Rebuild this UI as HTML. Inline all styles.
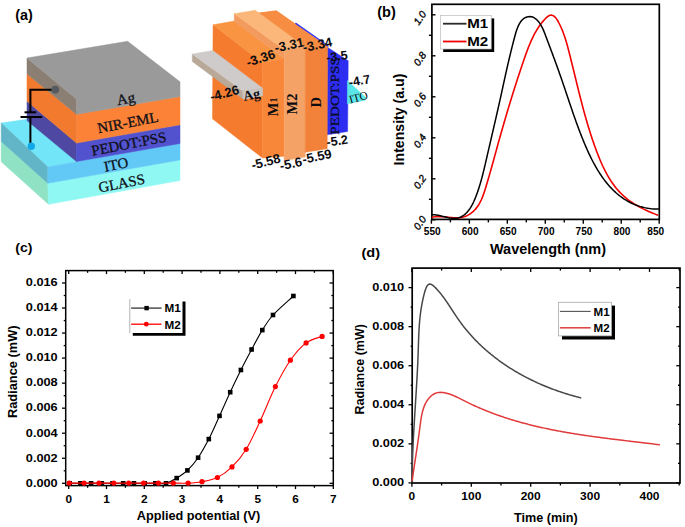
<!DOCTYPE html>
<html><head><meta charset="utf-8"><title>Figure</title>
<style>html,body{margin:0;padding:0;background:#fff;}body{width:685px;height:527px;overflow:hidden;font-family:"Liberation Sans",sans-serif;}svg{display:block;}</style>
</head><body>
<svg width="685" height="527" viewBox="0 0 685 527">
<text x="15.2" y="19.8" font-family="&quot;Liberation Sans&quot;, sans-serif" font-size="14.5" font-weight="bold" fill="#000" text-anchor="start" textLength="17.6" lengthAdjust="spacingAndGlyphs">(a)</text>
<polygon points="1.2,141.5 47.8,183.3 48.5,204.3 1.2,161.7" fill="#8fe3c4" stroke="#8fe3c4" stroke-width="0.5" stroke-linejoin="round"/>
<polygon points="47.8,183.3 180,160 180,180.5 48.5,204.3" fill="#8ff8f3" stroke="#8ff8f3" stroke-width="0.5" stroke-linejoin="round"/>
<polygon points="1.2,123 28.5,119.1 133.7,99 180,143.5 47.8,167" fill="#72e6f8" stroke="#72e6f8" stroke-width="0.5" stroke-linejoin="round"/>
<polygon points="1.2,123 47.8,167 47.8,183.3 1.2,141.5" fill="#62b5c6" stroke="#62b5c6" stroke-width="0.5" stroke-linejoin="round"/>
<polygon points="47.8,167 180,143.5 180,160 47.8,183.3" fill="#62c9f7" stroke="#62c9f7" stroke-width="0.5" stroke-linejoin="round"/>
<polygon points="27,101.2 76.5,143.1 76.5,161.6 27,120.6" fill="#4f48a3" stroke="#4f48a3" stroke-width="0.5" stroke-linejoin="round"/>
<polygon points="76.5,143.1 180,124.8 180,143.5 76.5,161.6" fill="#5252cf" stroke="#5252cf" stroke-width="0.5" stroke-linejoin="round"/>
<polygon points="27,74 76.5,114.3 76.5,143.1 27,101.2" fill="#f27a2f" stroke="#f27a2f" stroke-width="0.5" stroke-linejoin="round"/>
<polygon points="76.5,114.3 180,96.6 180,124.8 76.5,143.1" fill="#fb8236" stroke="#fb8236" stroke-width="0.5" stroke-linejoin="round"/>
<polygon points="27,58 76.5,99 76.5,114.3 27,74" fill="#8b7f73" stroke="#8b7f73" stroke-width="0.5" stroke-linejoin="round"/>
<polygon points="27,58 127.6,41.3 180,81.8 180,96.6 76.5,114.3 76.5,99" fill="#9a9a9a" stroke="#9a9a9a" stroke-width="0.5" stroke-linejoin="round"/>
<path d="M54.5,89.7 H30.4 V112.3 M30.4,117 V146" fill="none" stroke="#000" stroke-width="2"/>
<line x1="24.5" y1="112.3" x2="36.2" y2="112.3" stroke="#000" stroke-width="2"/>
<line x1="20.5" y1="117" x2="42.2" y2="117" stroke="#000" stroke-width="2"/>
<circle cx="55.2" cy="89.6" r="3.9" fill="#555a5e"/>
<circle cx="31.3" cy="146.2" r="3.7" fill="#10a8e8"/>
<text x="126.8" y="103.5" font-family="&quot;Liberation Serif&quot;, serif" font-size="15" font-weight="normal" fill="#101018" text-anchor="middle" transform="rotate(-10.5 126.8 103.5)" stroke="#101018" stroke-width="0.3">Ag</text>
<text x="128.8" y="127.3" font-family="&quot;Liberation Serif&quot;, serif" font-size="14.8" font-weight="normal" fill="#101018" text-anchor="middle" transform="rotate(-11 128.8 127.3)" stroke="#101018" stroke-width="0.3">NIR-EML</text>
<text x="129.8" y="148.6" font-family="&quot;Liberation Serif&quot;, serif" font-size="14.8" font-weight="normal" fill="#101018" text-anchor="middle" transform="rotate(-11 129.8 148.6)" stroke="#101018" stroke-width="0.3">PEDOT:PSS</text>
<text x="117" y="169.3" font-family="&quot;Liberation Serif&quot;, serif" font-size="14.8" font-weight="normal" fill="#101018" text-anchor="middle" transform="rotate(-11 117 169.3)" stroke="#101018" stroke-width="0.3">ITO</text>
<text x="122.5" y="188" font-family="&quot;Liberation Serif&quot;, serif" font-size="14.8" font-weight="normal" fill="#101018" text-anchor="middle" transform="rotate(-11 122.5 188)" stroke="#101018" stroke-width="0.3">GLASS</text>
<polygon points="255.2,13.6 276.3,10.8 327.8,46.8 305.2,50.6" fill="#f68d42" stroke="#f68d42" stroke-width="0.5" stroke-linejoin="round"/>
<polygon points="276.3,10.8 327.8,46.8 305.2,50.6 255.2,13.6" fill="#f68d42" stroke="#f68d42" stroke-width="0.5" stroke-linejoin="round"/>
<line x1="295.4" y1="23.1" x2="328.6" y2="46.3" stroke="#3333f0" stroke-width="1.3"/>
<polygon points="327.3,47.2 348.2,60.8 347.6,131.5 326.8,134.8" fill="#2e2ef2" stroke="#2e2ef2" stroke-width="0.5" stroke-linejoin="round"/>
<polygon points="347.4,80.6 365.8,97.4 365.2,100.3 347.4,103.8" fill="#5ae6e8" stroke="#5ae6e8" stroke-width="0.5" stroke-linejoin="round"/>
<polygon points="213.1,24.8 262.5,62.9 262.5,158 212.5,118.8" fill="#f57b2f" stroke="#f57b2f" stroke-width="0.5" stroke-linejoin="round"/>
<polygon points="213.1,24.8 234.3,21.1 284.2,58.5 262.5,62.9" fill="#f99443" stroke="#f99443" stroke-width="0.5" stroke-linejoin="round"/>
<polygon points="262.5,62.9 284.2,58.5 284.2,156.3 262.5,158" fill="#f8873a" stroke="#f8873a" stroke-width="0.5" stroke-linejoin="round"/>
<polygon points="234.3,13.7 284.2,49.8 284.2,58.5 234.3,21.1" fill="#f39a5e" stroke="#f39a5e" stroke-width="0.5" stroke-linejoin="round"/>
<polygon points="234.3,13.7 255.2,10.3 305.2,47 284.2,49.8" fill="#fbb679" stroke="#fbb679" stroke-width="0.5" stroke-linejoin="round"/>
<polygon points="284.2,49.8 305.2,47 305.2,157.1 284.2,160.6" fill="#f4a266" stroke="#f4a266" stroke-width="0.5" stroke-linejoin="round"/>
<polygon points="305.2,50.6 327.6,47 327.2,148.7 305.2,152.2" fill="#f2823a" stroke="#f2823a" stroke-width="0.5" stroke-linejoin="round"/>
<polygon points="192.3,54 242.5,90.9 243.2,99.2 192.3,61.5" fill="#b9a999" stroke="#b9a999" stroke-width="0.5" stroke-linejoin="round"/>
<polygon points="192.3,54 212.8,50.5 262.6,88.2 242.5,90.9" fill="#d0cbcb" stroke="#d0cbcb" stroke-width="0.5" stroke-linejoin="round"/>
<polygon points="242.5,90.9 262.6,88.2 262.6,95.8 243.2,99.2" fill="#c9c5c3" stroke="#c9c5c3" stroke-width="0.5" stroke-linejoin="round"/>
<text x="262" y="62.3" font-family="&quot;Liberation Sans&quot;, sans-serif" font-size="13" font-weight="bold" fill="#0c0c10" text-anchor="middle" transform="rotate(-18 262 62.3)">-3.36</text>
<text x="290.1" y="49.4" font-family="&quot;Liberation Sans&quot;, sans-serif" font-size="13" font-weight="bold" fill="#0c0c10" text-anchor="middle" transform="rotate(-12 290.1 49.4)">-3.31</text>
<text x="318.3" y="49" font-family="&quot;Liberation Sans&quot;, sans-serif" font-size="13" font-weight="bold" fill="#0c0c10" text-anchor="middle" transform="rotate(-12 318.3 49)">-3.34</text>
<text x="337.5" y="60.5" font-family="&quot;Liberation Sans&quot;, sans-serif" font-size="12.5" font-weight="bold" fill="#0c0c10" text-anchor="middle" transform="rotate(-8 337.5 60.5)">-3.5</text>
<text x="360.2" y="84.8" font-family="&quot;Liberation Sans&quot;, sans-serif" font-size="12.5" font-weight="bold" fill="#0c0c10" text-anchor="middle" transform="rotate(-10 360.2 84.8)">-4.7</text>
<text x="225.7" y="97.5" font-family="&quot;Liberation Sans&quot;, sans-serif" font-size="13" font-weight="bold" fill="#0c0c10" text-anchor="middle" transform="rotate(-15 225.7 97.5)">-4.26</text>
<text x="267" y="166" font-family="&quot;Liberation Sans&quot;, sans-serif" font-size="13" font-weight="bold" fill="#0c0c10" text-anchor="middle" transform="rotate(-15 267 166)">-5.58</text>
<text x="291.8" y="168.2" font-family="&quot;Liberation Sans&quot;, sans-serif" font-size="13" font-weight="bold" fill="#0c0c10" text-anchor="middle" transform="rotate(-12 291.8 168.2)">-5.6</text>
<text x="317.8" y="160.8" font-family="&quot;Liberation Sans&quot;, sans-serif" font-size="13" font-weight="bold" fill="#0c0c10" text-anchor="middle" transform="rotate(-12 317.8 160.8)">-5.59</text>
<text x="337.8" y="145" font-family="&quot;Liberation Sans&quot;, sans-serif" font-size="12.5" font-weight="bold" fill="#0c0c10" text-anchor="middle" transform="rotate(-8 337.8 145)">-5.2</text>
<text x="252.6" y="99.3" font-family="&quot;Liberation Serif&quot;, serif" font-size="14" font-weight="bold" fill="#0c0c10" text-anchor="middle" transform="rotate(-12 252.6 99.3)">Ag</text>
<text x="278.5" y="106.8" font-family="&quot;Liberation Serif&quot;, serif" font-size="14.5" font-weight="bold" fill="#0c0c10" text-anchor="middle" transform="rotate(-90 278.5 106.8)">M<tspan font-size="10" dy="-1">1</tspan></text>
<text x="297" y="104" font-family="&quot;Liberation Serif&quot;, serif" font-size="14.5" font-weight="bold" fill="#0c0c10" text-anchor="middle" transform="rotate(-90 297 104)">M2</text>
<text x="321" y="102.2" font-family="&quot;Liberation Serif&quot;, serif" font-size="14.5" font-weight="bold" fill="#0c0c10" text-anchor="middle" transform="rotate(-90 321 102.2)">D</text>
<text x="339.2" y="95.9" font-family="&quot;Liberation Serif&quot;, serif" font-size="13" font-weight="normal" fill="#0c0c2c" text-anchor="middle" transform="rotate(-90 339.2 95.9)" textLength="77.5" lengthAdjust="spacingAndGlyphs" stroke="#0c0c2c" stroke-width="0.3">PEDOT:PSS</text>
<text x="359.5" y="101" font-family="&quot;Liberation Serif&quot;, serif" font-size="11.5" font-weight="normal" fill="#0c0c10" text-anchor="middle" transform="rotate(-15 359.5 101)">ITO</text>
<text x="377.2" y="17" font-family="&quot;Liberation Sans&quot;, sans-serif" font-size="14.5" font-weight="bold" fill="#000" text-anchor="start" textLength="18.6" lengthAdjust="spacingAndGlyphs">(b)</text>
<rect x="431.9" y="4.3" width="227.4" height="215.1" fill="none" stroke="#000" stroke-width="1.7"/>
<line x1="431.4" y1="219.4" x2="431.4" y2="223.7" stroke="#000" stroke-width="1.4"/>
<text x="432.2" y="235.1" font-family="&quot;Liberation Sans&quot;, sans-serif" font-size="10.6" font-weight="bold" fill="#000" text-anchor="middle" textLength="16.9" lengthAdjust="spacingAndGlyphs">550</text>
<line x1="450.38" y1="219.4" x2="450.38" y2="222.4" stroke="#000" stroke-width="1.4"/>
<line x1="469.36" y1="219.4" x2="469.36" y2="223.7" stroke="#000" stroke-width="1.4"/>
<text x="470.16" y="235.1" font-family="&quot;Liberation Sans&quot;, sans-serif" font-size="10.6" font-weight="bold" fill="#000" text-anchor="middle" textLength="16.9" lengthAdjust="spacingAndGlyphs">600</text>
<line x1="488.35" y1="219.4" x2="488.35" y2="222.4" stroke="#000" stroke-width="1.4"/>
<line x1="507.33" y1="219.4" x2="507.33" y2="223.7" stroke="#000" stroke-width="1.4"/>
<text x="508.13" y="235.1" font-family="&quot;Liberation Sans&quot;, sans-serif" font-size="10.6" font-weight="bold" fill="#000" text-anchor="middle" textLength="16.9" lengthAdjust="spacingAndGlyphs">650</text>
<line x1="526.31" y1="219.4" x2="526.31" y2="222.4" stroke="#000" stroke-width="1.4"/>
<line x1="545.29" y1="219.4" x2="545.29" y2="223.7" stroke="#000" stroke-width="1.4"/>
<text x="546.09" y="235.1" font-family="&quot;Liberation Sans&quot;, sans-serif" font-size="10.6" font-weight="bold" fill="#000" text-anchor="middle" textLength="16.9" lengthAdjust="spacingAndGlyphs">700</text>
<line x1="564.28" y1="219.4" x2="564.28" y2="222.4" stroke="#000" stroke-width="1.4"/>
<line x1="583.26" y1="219.4" x2="583.26" y2="223.7" stroke="#000" stroke-width="1.4"/>
<text x="584.06" y="235.1" font-family="&quot;Liberation Sans&quot;, sans-serif" font-size="10.6" font-weight="bold" fill="#000" text-anchor="middle" textLength="16.9" lengthAdjust="spacingAndGlyphs">750</text>
<line x1="602.24" y1="219.4" x2="602.24" y2="222.4" stroke="#000" stroke-width="1.4"/>
<line x1="621.22" y1="219.4" x2="621.22" y2="223.7" stroke="#000" stroke-width="1.4"/>
<text x="622.02" y="235.1" font-family="&quot;Liberation Sans&quot;, sans-serif" font-size="10.6" font-weight="bold" fill="#000" text-anchor="middle" textLength="16.9" lengthAdjust="spacingAndGlyphs">800</text>
<line x1="640.21" y1="219.4" x2="640.21" y2="222.4" stroke="#000" stroke-width="1.4"/>
<line x1="659.19" y1="219.4" x2="659.19" y2="223.7" stroke="#000" stroke-width="1.4"/>
<text x="655.8" y="235.1" font-family="&quot;Liberation Sans&quot;, sans-serif" font-size="10.6" font-weight="bold" fill="#000" text-anchor="middle" textLength="16.9" lengthAdjust="spacingAndGlyphs">850</text>
<line x1="431.9" y1="219.8" x2="435.5" y2="219.8" stroke="#000" stroke-width="1.4"/>
<text x="422.8" y="224.9" font-family="&quot;Liberation Sans&quot;, sans-serif" font-size="10.2" font-weight="normal" fill="#000" text-anchor="middle" transform="rotate(-55 422.8 224.9)" font-style="italic" stroke="#000" stroke-width="0.35">0.0</text>
<line x1="428.9" y1="199.3" x2="431.9" y2="199.3" stroke="#000" stroke-width="1.4"/>
<line x1="431.9" y1="178.8" x2="435.5" y2="178.8" stroke="#000" stroke-width="1.4"/>
<text x="422.8" y="183.9" font-family="&quot;Liberation Sans&quot;, sans-serif" font-size="10.2" font-weight="normal" fill="#000" text-anchor="middle" transform="rotate(-55 422.8 183.9)" font-style="italic" stroke="#000" stroke-width="0.35">0.2</text>
<line x1="428.9" y1="158.3" x2="431.9" y2="158.3" stroke="#000" stroke-width="1.4"/>
<line x1="431.9" y1="137.8" x2="435.5" y2="137.8" stroke="#000" stroke-width="1.4"/>
<text x="422.8" y="142.9" font-family="&quot;Liberation Sans&quot;, sans-serif" font-size="10.2" font-weight="normal" fill="#000" text-anchor="middle" transform="rotate(-55 422.8 142.9)" font-style="italic" stroke="#000" stroke-width="0.35">0.4</text>
<line x1="428.9" y1="117.3" x2="431.9" y2="117.3" stroke="#000" stroke-width="1.4"/>
<line x1="431.9" y1="96.8" x2="435.5" y2="96.8" stroke="#000" stroke-width="1.4"/>
<text x="422.8" y="101.9" font-family="&quot;Liberation Sans&quot;, sans-serif" font-size="10.2" font-weight="normal" fill="#000" text-anchor="middle" transform="rotate(-55 422.8 101.9)" font-style="italic" stroke="#000" stroke-width="0.35">0.6</text>
<line x1="428.9" y1="76.3" x2="431.9" y2="76.3" stroke="#000" stroke-width="1.4"/>
<line x1="431.9" y1="55.8" x2="435.5" y2="55.8" stroke="#000" stroke-width="1.4"/>
<text x="422.8" y="60.9" font-family="&quot;Liberation Sans&quot;, sans-serif" font-size="10.2" font-weight="normal" fill="#000" text-anchor="middle" transform="rotate(-55 422.8 60.9)" font-style="italic" stroke="#000" stroke-width="0.35">0.8</text>
<line x1="428.9" y1="35.3" x2="431.9" y2="35.3" stroke="#000" stroke-width="1.4"/>
<line x1="431.9" y1="14.8" x2="435.5" y2="14.8" stroke="#000" stroke-width="1.4"/>
<text x="422.8" y="19.9" font-family="&quot;Liberation Sans&quot;, sans-serif" font-size="10.2" font-weight="normal" fill="#000" text-anchor="middle" transform="rotate(-55 422.8 19.9)" font-style="italic" stroke="#000" stroke-width="0.35">1.0</text>
<text x="548" y="253.6" font-family="&quot;Liberation Sans&quot;, sans-serif" font-size="15" font-weight="bold" fill="#000" text-anchor="middle" textLength="116" lengthAdjust="spacingAndGlyphs">Wavelength (nm)</text>
<text x="403.7" y="119.5" font-family="&quot;Liberation Sans&quot;, sans-serif" font-size="15" font-weight="bold" fill="#000" text-anchor="middle" transform="rotate(-90 403.7 119.5)" textLength="91.8" lengthAdjust="spacingAndGlyphs">Intensity (a.u)</text>
<path d="M431.84,217.41 L433.4,217.05 L435,216.8 L436.62,216.65 L438.26,216.59 L439.93,216.6 L441.61,216.68 L443.3,216.8 L445.01,216.95 L446.72,217.13 L448.43,217.31 L450.14,217.49 L451.85,217.64 L453.55,217.76 L455.24,217.83 L456.92,217.84 L458.58,217.78 L460.21,217.62 L461.82,217.37 L463.41,217 L464.96,216.5 L466.48,215.89 L467.94,215.18 L469.36,214.36 L470.73,213.46 L472.03,212.48 L473.26,211.42 L474.41,210.3 L475.5,209.12 L476.52,207.88 L477.47,206.58 L478.37,205.24 L479.21,203.86 L480,202.43 L480.75,200.97 L481.45,199.47 L482.11,197.94 L482.73,196.39 L483.33,194.81 L483.9,193.22 L484.44,191.61 L484.97,189.99 L485.48,188.36 L485.98,186.73 L486.47,185.1 L486.95,183.47 L487.44,181.84 L487.91,180.22 L488.39,178.6 L488.86,176.98 L489.32,175.37 L489.78,173.75 L490.24,172.14 L490.7,170.53 L491.15,168.92 L491.6,167.32 L492.05,165.71 L492.49,164.11 L492.93,162.51 L493.38,160.91 L493.82,159.31 L494.26,157.72 L494.7,156.12 L495.13,154.53 L495.57,152.94 L496.01,151.35 L496.45,149.76 L496.88,148.17 L497.32,146.58 L497.76,144.99 L498.2,143.4 L498.64,141.82 L499.08,140.23 L499.53,138.65 L499.97,137.07 L500.42,135.48 L500.87,133.9 L501.31,132.32 L501.76,130.74 L502.22,129.16 L502.67,127.58 L503.12,126 L503.58,124.42 L504.04,122.84 L504.5,121.26 L504.96,119.68 L505.42,118.1 L505.88,116.52 L506.35,114.95 L506.82,113.37 L507.29,111.79 L507.76,110.21 L508.23,108.63 L508.71,107.06 L509.18,105.48 L509.66,103.9 L510.14,102.32 L510.63,100.74 L511.11,99.17 L511.6,97.59 L512.09,96.01 L512.58,94.43 L513.07,92.85 L513.57,91.27 L514.07,89.69 L514.57,88.1 L515.07,86.52 L515.58,84.94 L516.09,83.36 L516.6,81.77 L517.11,80.19 L517.63,78.6 L518.14,77.02 L518.67,75.43 L519.19,73.84 L519.72,72.25 L520.25,70.66 L520.78,69.07 L521.31,67.48 L521.85,65.89 L522.39,64.3 L522.93,62.7 L523.48,61.11 L524.03,59.51 L524.58,57.91 L525.14,56.32 L525.71,54.72 L526.28,53.13 L526.86,51.54 L527.45,49.96 L528.05,48.38 L528.66,46.81 L529.29,45.25 L529.93,43.7 L530.59,42.16 L531.26,40.64 L531.95,39.12 L532.66,37.62 L533.39,36.13 L534.15,34.67 L534.92,33.21 L535.72,31.78 L536.54,30.37 L537.39,28.97 L538.27,27.6 L539.18,26.26 L540.11,24.93 L541.08,23.64 L542.08,22.37 L543.11,21.12 L544.18,19.91 L545.28,18.72 L546.42,17.59 L547.6,16.57 L548.81,15.76 L550.05,15.26 L551.33,15.14 L552.6,15.41 L553.85,16.06 L555.02,17.06 L556.13,18.34 L557.18,19.85 L558.16,21.51 L559.08,23.25 L559.94,25.01 L560.75,26.75 L561.51,28.47 L562.22,30.16 L562.89,31.82 L563.52,33.47 L564.11,35.1 L564.67,36.71 L565.2,38.3 L565.7,39.89 L566.18,41.46 L566.63,43.03 L567.07,44.59 L567.5,46.15 L567.91,47.7 L568.32,49.25 L568.72,50.81 L569.12,52.37 L569.52,53.93 L569.92,55.5 L570.31,57.06 L570.71,58.64 L571.1,60.21 L571.49,61.79 L571.88,63.37 L572.27,64.95 L572.66,66.53 L573.05,68.12 L573.44,69.71 L573.83,71.3 L574.22,72.89 L574.61,74.49 L575,76.09 L575.39,77.69 L575.78,79.29 L576.17,80.89 L576.56,82.49 L576.95,84.09 L577.35,85.7 L577.74,87.31 L578.14,88.91 L578.54,90.52 L578.94,92.13 L579.35,93.74 L579.75,95.35 L580.16,96.96 L580.57,98.57 L580.99,100.18 L581.4,101.79 L581.82,103.4 L582.25,105.01 L582.67,106.63 L583.1,108.24 L583.53,109.85 L583.97,111.45 L584.41,113.06 L584.86,114.67 L585.31,116.28 L585.76,117.88 L586.22,119.49 L586.68,121.09 L587.15,122.7 L587.62,124.3 L588.1,125.9 L588.59,127.49 L589.07,129.09 L589.57,130.69 L590.07,132.28 L590.58,133.87 L591.09,135.46 L591.61,137.04 L592.13,138.63 L592.67,140.21 L593.21,141.79 L593.75,143.37 L594.3,144.94 L594.86,146.51 L595.43,148.08 L596.01,149.64 L596.59,151.2 L597.18,152.76 L597.78,154.32 L598.39,155.87 L599.01,157.41 L599.64,158.95 L600.28,160.48 L600.94,162 L601.6,163.52 L602.28,165.03 L602.98,166.52 L603.69,168.01 L604.42,169.49 L605.16,170.95 L605.92,172.41 L606.7,173.85 L607.5,175.28 L608.32,176.69 L609.16,178.09 L610.02,179.48 L610.9,180.84 L611.81,182.2 L612.73,183.53 L613.68,184.85 L614.66,186.15 L615.66,187.43 L616.69,188.68 L617.75,189.92 L618.83,191.14 L619.94,192.34 L621.08,193.51 L622.25,194.66 L623.46,195.78 L624.69,196.89 L625.95,197.96 L627.25,199.01 L628.58,200.04 L629.94,201.03 L631.33,202.01 L632.75,202.95 L634.18,203.87 L635.64,204.77 L637.12,205.64 L638.6,206.48 L640.1,207.3 L641.62,208.09 L643.13,208.86 L644.65,209.6 L646.18,210.32 L647.7,211.02 L649.21,211.69 L650.72,212.33 L652.22,212.95 L653.71,213.55 L655.19,214.13 L656.65,214.68 L658.08,215.2" fill="none" stroke="#f20000" stroke-width="1.6" stroke-linejoin="round"/>
<path d="M432.07,214.82 L433.38,214.73 L434.79,214.79 L436.29,214.96 L437.86,215.23 L439.5,215.58 L441.19,215.98 L442.92,216.41 L444.67,216.84 L446.44,217.26 L448.2,217.64 L449.95,217.97 L451.67,218.21 L453.36,218.35 L454.98,218.36 L456.55,218.22 L458.05,217.94 L459.48,217.52 L460.85,216.96 L462.16,216.29 L463.41,215.49 L464.61,214.59 L465.75,213.59 L466.84,212.49 L467.88,211.3 L468.87,210.04 L469.81,208.7 L470.71,207.3 L471.57,205.84 L472.39,204.34 L473.17,202.79 L473.92,201.21 L474.63,199.6 L475.31,197.97 L475.96,196.33 L476.58,194.68 L477.18,193.04 L477.76,191.41 L478.31,189.78 L478.84,188.17 L479.35,186.57 L479.84,184.98 L480.32,183.39 L480.78,181.81 L481.23,180.24 L481.66,178.67 L482.08,177.11 L482.48,175.55 L482.88,173.99 L483.27,172.43 L483.65,170.87 L484.03,169.32 L484.4,167.76 L484.77,166.2 L485.13,164.63 L485.5,163.06 L485.86,161.49 L486.22,159.91 L486.59,158.33 L486.95,156.74 L487.32,155.14 L487.69,153.54 L488.07,151.93 L488.44,150.32 L488.82,148.7 L489.19,147.08 L489.57,145.46 L489.95,143.83 L490.33,142.2 L490.71,140.56 L491.09,138.92 L491.47,137.29 L491.85,135.64 L492.23,134 L492.61,132.36 L492.99,130.71 L493.37,129.07 L493.75,127.42 L494.13,125.77 L494.51,124.13 L494.89,122.48 L495.27,120.84 L495.65,119.19 L496.02,117.55 L496.4,115.91 L496.77,114.27 L497.14,112.64 L497.52,111.01 L497.88,109.38 L498.25,107.75 L498.62,106.13 L498.98,104.51 L499.34,102.9 L499.7,101.29 L500.06,99.68 L500.41,98.08 L500.77,96.49 L501.12,94.9 L501.46,93.32 L501.81,91.74 L502.16,90.17 L502.5,88.59 L502.84,87.02 L503.18,85.46 L503.53,83.89 L503.87,82.32 L504.21,80.76 L504.55,79.19 L504.9,77.63 L505.24,76.06 L505.59,74.49 L505.94,72.92 L506.29,71.35 L506.65,69.77 L507,68.19 L507.36,66.61 L507.73,65.02 L508.09,63.43 L508.46,61.83 L508.84,60.22 L509.22,58.61 L509.6,56.99 L509.99,55.36 L510.39,53.72 L510.79,52.08 L511.19,50.42 L511.61,48.76 L512.03,47.08 L512.45,45.4 L512.89,43.7 L513.33,41.99 L513.78,40.27 L514.24,38.53 L514.71,36.78 L515.18,35.03 L515.68,33.28 L516.21,31.55 L516.76,29.85 L517.36,28.19 L518,26.59 L518.7,25.07 L519.46,23.62 L520.29,22.27 L521.19,21.03 L522.17,19.92 L523.24,18.93 L524.41,18.1 L525.67,17.43 L527.01,16.93 L528.4,16.63 L529.81,16.54 L531.23,16.67 L532.63,17.05 L533.99,17.68 L535.29,18.52 L536.54,19.55 L537.72,20.72 L538.82,22.02 L539.84,23.39 L540.76,24.82 L541.6,26.29 L542.37,27.8 L543.09,29.34 L543.75,30.9 L544.38,32.47 L544.99,34.06 L545.6,35.65 L546.2,37.24 L546.79,38.82 L547.39,40.41 L547.99,41.99 L548.59,43.58 L549.18,45.16 L549.77,46.74 L550.37,48.32 L550.96,49.9 L551.55,51.47 L552.13,53.05 L552.72,54.62 L553.3,56.19 L553.88,57.76 L554.46,59.33 L555.03,60.9 L555.61,62.47 L556.18,64.03 L556.74,65.59 L557.31,67.15 L557.87,68.71 L558.43,70.27 L558.98,71.83 L559.53,73.38 L560.08,74.94 L560.62,76.49 L561.16,78.04 L561.7,79.58 L562.23,81.13 L562.76,82.67 L563.28,84.22 L563.81,85.76 L564.33,87.3 L564.85,88.84 L565.37,90.38 L565.89,91.92 L566.4,93.46 L566.92,94.99 L567.43,96.53 L567.95,98.07 L568.46,99.6 L568.98,101.14 L569.5,102.68 L570.02,104.21 L570.54,105.75 L571.06,107.29 L571.58,108.82 L572.11,110.36 L572.64,111.9 L573.17,113.44 L573.71,114.98 L574.24,116.52 L574.79,118.06 L575.34,119.61 L575.89,121.15 L576.44,122.7 L577.01,124.25 L577.57,125.8 L578.15,127.35 L578.73,128.9 L579.31,130.46 L579.91,132.01 L580.51,133.57 L581.11,135.14 L581.73,136.7 L582.35,138.27 L582.98,139.83 L583.62,141.4 L584.27,142.97 L584.93,144.54 L585.59,146.1 L586.27,147.66 L586.96,149.22 L587.66,150.77 L588.36,152.32 L589.08,153.87 L589.82,155.41 L590.56,156.94 L591.31,158.46 L592.08,159.98 L592.86,161.48 L593.65,162.98 L594.46,164.46 L595.28,165.94 L596.12,167.4 L596.96,168.85 L597.83,170.28 L598.71,171.71 L599.6,173.11 L600.51,174.5 L601.43,175.88 L602.38,177.24 L603.33,178.58 L604.31,179.9 L605.3,181.2 L606.31,182.48 L607.34,183.74 L608.39,184.98 L609.45,186.2 L610.53,187.39 L611.64,188.56 L612.76,189.7 L613.9,190.83 L615.06,191.92 L616.24,192.99 L617.45,194.03 L618.67,195.04 L619.91,196.02 L621.18,196.98 L622.47,197.9 L623.78,198.8 L625.12,199.66 L626.47,200.48 L627.85,201.28 L629.26,202.04 L630.69,202.77 L632.14,203.46 L633.61,204.11 L635.12,204.73 L636.64,205.31 L638.2,205.86 L639.77,206.36 L641.38,206.82 L643.01,207.25 L644.67,207.63 L646.35,207.97 L648.06,208.27 L649.8,208.52 L651.57,208.73 L653.37,208.89 L655.19,209.01 L657.05,209.09 L658.93,209.11" fill="none" stroke="#000" stroke-width="1.5" stroke-linejoin="round"/>
<rect x="443.2" y="18.4" width="51" height="33.6" fill="#000"/>
<rect x="440.4" y="15.4" width="50.8" height="33.6" fill="#fff" stroke="#bbb" stroke-width="0.7"/>
<line x1="443" y1="23.7" x2="466.5" y2="23.7" stroke="#2a2a2a" stroke-width="1.8"/>
<line x1="443" y1="41.5" x2="466.5" y2="41.5" stroke="#f00000" stroke-width="1.8"/>
<text x="467.2" y="28.2" font-family="&quot;Liberation Sans&quot;, sans-serif" font-size="13.5" font-weight="bold" fill="#000" text-anchor="start" textLength="21" lengthAdjust="spacingAndGlyphs">M1</text>
<text x="467.2" y="45.9" font-family="&quot;Liberation Sans&quot;, sans-serif" font-size="13.5" font-weight="bold" fill="#000" text-anchor="start" textLength="21" lengthAdjust="spacingAndGlyphs">M2</text>
<text x="15.3" y="251.8" font-family="&quot;Liberation Sans&quot;, sans-serif" font-size="13.5" font-weight="bold" fill="#000" text-anchor="start" textLength="17.2" lengthAdjust="spacingAndGlyphs">(c)</text>
<rect x="65.7" y="270.6" width="267.6" height="215" fill="none" stroke="#000" stroke-width="1.5"/>
<line x1="68.7" y1="485.6" x2="68.7" y2="489.1" stroke="#000" stroke-width="1.3"/>
<line x1="68.7" y1="270.6" x2="68.7" y2="274.1" stroke="#000" stroke-width="1.3"/>
<text x="68.7" y="502.9" font-family="&quot;Liberation Sans&quot;, sans-serif" font-size="11.8" font-weight="bold" fill="#000" text-anchor="middle">0</text>
<line x1="87.6" y1="485.6" x2="87.6" y2="487.8" stroke="#000" stroke-width="1.3"/>
<line x1="87.6" y1="270.6" x2="87.6" y2="272.8" stroke="#000" stroke-width="1.3"/>
<line x1="106.5" y1="485.6" x2="106.5" y2="489.1" stroke="#000" stroke-width="1.3"/>
<line x1="106.5" y1="270.6" x2="106.5" y2="274.1" stroke="#000" stroke-width="1.3"/>
<text x="106.5" y="502.9" font-family="&quot;Liberation Sans&quot;, sans-serif" font-size="11.8" font-weight="bold" fill="#000" text-anchor="middle">1</text>
<line x1="125.4" y1="485.6" x2="125.4" y2="487.8" stroke="#000" stroke-width="1.3"/>
<line x1="125.4" y1="270.6" x2="125.4" y2="272.8" stroke="#000" stroke-width="1.3"/>
<line x1="144.3" y1="485.6" x2="144.3" y2="489.1" stroke="#000" stroke-width="1.3"/>
<line x1="144.3" y1="270.6" x2="144.3" y2="274.1" stroke="#000" stroke-width="1.3"/>
<text x="144.3" y="502.9" font-family="&quot;Liberation Sans&quot;, sans-serif" font-size="11.8" font-weight="bold" fill="#000" text-anchor="middle">2</text>
<line x1="163.2" y1="485.6" x2="163.2" y2="487.8" stroke="#000" stroke-width="1.3"/>
<line x1="163.2" y1="270.6" x2="163.2" y2="272.8" stroke="#000" stroke-width="1.3"/>
<line x1="182.1" y1="485.6" x2="182.1" y2="489.1" stroke="#000" stroke-width="1.3"/>
<line x1="182.1" y1="270.6" x2="182.1" y2="274.1" stroke="#000" stroke-width="1.3"/>
<text x="182.1" y="502.9" font-family="&quot;Liberation Sans&quot;, sans-serif" font-size="11.8" font-weight="bold" fill="#000" text-anchor="middle">3</text>
<line x1="201" y1="485.6" x2="201" y2="487.8" stroke="#000" stroke-width="1.3"/>
<line x1="201" y1="270.6" x2="201" y2="272.8" stroke="#000" stroke-width="1.3"/>
<line x1="219.9" y1="485.6" x2="219.9" y2="489.1" stroke="#000" stroke-width="1.3"/>
<line x1="219.9" y1="270.6" x2="219.9" y2="274.1" stroke="#000" stroke-width="1.3"/>
<text x="219.9" y="502.9" font-family="&quot;Liberation Sans&quot;, sans-serif" font-size="11.8" font-weight="bold" fill="#000" text-anchor="middle">4</text>
<line x1="238.8" y1="485.6" x2="238.8" y2="487.8" stroke="#000" stroke-width="1.3"/>
<line x1="238.8" y1="270.6" x2="238.8" y2="272.8" stroke="#000" stroke-width="1.3"/>
<line x1="257.7" y1="485.6" x2="257.7" y2="489.1" stroke="#000" stroke-width="1.3"/>
<line x1="257.7" y1="270.6" x2="257.7" y2="274.1" stroke="#000" stroke-width="1.3"/>
<text x="257.7" y="502.9" font-family="&quot;Liberation Sans&quot;, sans-serif" font-size="11.8" font-weight="bold" fill="#000" text-anchor="middle">5</text>
<line x1="276.6" y1="485.6" x2="276.6" y2="487.8" stroke="#000" stroke-width="1.3"/>
<line x1="276.6" y1="270.6" x2="276.6" y2="272.8" stroke="#000" stroke-width="1.3"/>
<line x1="295.5" y1="485.6" x2="295.5" y2="489.1" stroke="#000" stroke-width="1.3"/>
<line x1="295.5" y1="270.6" x2="295.5" y2="274.1" stroke="#000" stroke-width="1.3"/>
<text x="295.5" y="502.9" font-family="&quot;Liberation Sans&quot;, sans-serif" font-size="11.8" font-weight="bold" fill="#000" text-anchor="middle">6</text>
<line x1="314.4" y1="485.6" x2="314.4" y2="487.8" stroke="#000" stroke-width="1.3"/>
<line x1="314.4" y1="270.6" x2="314.4" y2="272.8" stroke="#000" stroke-width="1.3"/>
<line x1="333.3" y1="485.6" x2="333.3" y2="489.1" stroke="#000" stroke-width="1.3"/>
<line x1="333.3" y1="270.6" x2="333.3" y2="274.1" stroke="#000" stroke-width="1.3"/>
<text x="333.3" y="502.9" font-family="&quot;Liberation Sans&quot;, sans-serif" font-size="11.8" font-weight="bold" fill="#000" text-anchor="middle">7</text>
<line x1="62" y1="483.3" x2="65.7" y2="483.3" stroke="#000" stroke-width="1.3"/>
<line x1="329.6" y1="483.3" x2="333.3" y2="483.3" stroke="#000" stroke-width="1.3"/>
<text x="57.7" y="486.6" font-family="&quot;Liberation Sans&quot;, sans-serif" font-size="11.8" font-weight="bold" fill="#000" text-anchor="end" textLength="31.9" lengthAdjust="spacingAndGlyphs">0.000</text>
<line x1="63.7" y1="470.78" x2="65.7" y2="470.78" stroke="#000" stroke-width="1.3"/>
<line x1="331.3" y1="470.78" x2="333.3" y2="470.78" stroke="#000" stroke-width="1.3"/>
<line x1="62" y1="458.26" x2="65.7" y2="458.26" stroke="#000" stroke-width="1.3"/>
<line x1="329.6" y1="458.26" x2="333.3" y2="458.26" stroke="#000" stroke-width="1.3"/>
<text x="57.7" y="461.56" font-family="&quot;Liberation Sans&quot;, sans-serif" font-size="11.8" font-weight="bold" fill="#000" text-anchor="end" textLength="31.9" lengthAdjust="spacingAndGlyphs">0.002</text>
<line x1="63.7" y1="445.74" x2="65.7" y2="445.74" stroke="#000" stroke-width="1.3"/>
<line x1="331.3" y1="445.74" x2="333.3" y2="445.74" stroke="#000" stroke-width="1.3"/>
<line x1="62" y1="433.22" x2="65.7" y2="433.22" stroke="#000" stroke-width="1.3"/>
<line x1="329.6" y1="433.22" x2="333.3" y2="433.22" stroke="#000" stroke-width="1.3"/>
<text x="57.7" y="436.52" font-family="&quot;Liberation Sans&quot;, sans-serif" font-size="11.8" font-weight="bold" fill="#000" text-anchor="end" textLength="31.9" lengthAdjust="spacingAndGlyphs">0.004</text>
<line x1="63.7" y1="420.7" x2="65.7" y2="420.7" stroke="#000" stroke-width="1.3"/>
<line x1="331.3" y1="420.7" x2="333.3" y2="420.7" stroke="#000" stroke-width="1.3"/>
<line x1="62" y1="408.18" x2="65.7" y2="408.18" stroke="#000" stroke-width="1.3"/>
<line x1="329.6" y1="408.18" x2="333.3" y2="408.18" stroke="#000" stroke-width="1.3"/>
<text x="57.7" y="411.48" font-family="&quot;Liberation Sans&quot;, sans-serif" font-size="11.8" font-weight="bold" fill="#000" text-anchor="end" textLength="31.9" lengthAdjust="spacingAndGlyphs">0.006</text>
<line x1="63.7" y1="395.66" x2="65.7" y2="395.66" stroke="#000" stroke-width="1.3"/>
<line x1="331.3" y1="395.66" x2="333.3" y2="395.66" stroke="#000" stroke-width="1.3"/>
<line x1="62" y1="383.14" x2="65.7" y2="383.14" stroke="#000" stroke-width="1.3"/>
<line x1="329.6" y1="383.14" x2="333.3" y2="383.14" stroke="#000" stroke-width="1.3"/>
<text x="57.7" y="386.44" font-family="&quot;Liberation Sans&quot;, sans-serif" font-size="11.8" font-weight="bold" fill="#000" text-anchor="end" textLength="31.9" lengthAdjust="spacingAndGlyphs">0.008</text>
<line x1="63.7" y1="370.62" x2="65.7" y2="370.62" stroke="#000" stroke-width="1.3"/>
<line x1="331.3" y1="370.62" x2="333.3" y2="370.62" stroke="#000" stroke-width="1.3"/>
<line x1="62" y1="358.1" x2="65.7" y2="358.1" stroke="#000" stroke-width="1.3"/>
<line x1="329.6" y1="358.1" x2="333.3" y2="358.1" stroke="#000" stroke-width="1.3"/>
<text x="57.7" y="361.4" font-family="&quot;Liberation Sans&quot;, sans-serif" font-size="11.8" font-weight="bold" fill="#000" text-anchor="end" textLength="31.9" lengthAdjust="spacingAndGlyphs">0.010</text>
<line x1="63.7" y1="345.58" x2="65.7" y2="345.58" stroke="#000" stroke-width="1.3"/>
<line x1="331.3" y1="345.58" x2="333.3" y2="345.58" stroke="#000" stroke-width="1.3"/>
<line x1="62" y1="333.06" x2="65.7" y2="333.06" stroke="#000" stroke-width="1.3"/>
<line x1="329.6" y1="333.06" x2="333.3" y2="333.06" stroke="#000" stroke-width="1.3"/>
<text x="57.7" y="336.36" font-family="&quot;Liberation Sans&quot;, sans-serif" font-size="11.8" font-weight="bold" fill="#000" text-anchor="end" textLength="31.9" lengthAdjust="spacingAndGlyphs">0.012</text>
<line x1="63.7" y1="320.54" x2="65.7" y2="320.54" stroke="#000" stroke-width="1.3"/>
<line x1="331.3" y1="320.54" x2="333.3" y2="320.54" stroke="#000" stroke-width="1.3"/>
<line x1="62" y1="308.02" x2="65.7" y2="308.02" stroke="#000" stroke-width="1.3"/>
<line x1="329.6" y1="308.02" x2="333.3" y2="308.02" stroke="#000" stroke-width="1.3"/>
<text x="57.7" y="311.32" font-family="&quot;Liberation Sans&quot;, sans-serif" font-size="11.8" font-weight="bold" fill="#000" text-anchor="end" textLength="31.9" lengthAdjust="spacingAndGlyphs">0.014</text>
<line x1="63.7" y1="295.5" x2="65.7" y2="295.5" stroke="#000" stroke-width="1.3"/>
<line x1="331.3" y1="295.5" x2="333.3" y2="295.5" stroke="#000" stroke-width="1.3"/>
<line x1="62" y1="282.98" x2="65.7" y2="282.98" stroke="#000" stroke-width="1.3"/>
<line x1="329.6" y1="282.98" x2="333.3" y2="282.98" stroke="#000" stroke-width="1.3"/>
<text x="57.7" y="286.28" font-family="&quot;Liberation Sans&quot;, sans-serif" font-size="11.8" font-weight="bold" fill="#000" text-anchor="end" textLength="31.9" lengthAdjust="spacingAndGlyphs">0.016</text>
<text x="198.5" y="519.9" font-family="&quot;Liberation Sans&quot;, sans-serif" font-size="13.2" font-weight="bold" fill="#000" text-anchor="middle" textLength="123.4" lengthAdjust="spacingAndGlyphs">Applied potential (V)</text>
<text x="17" y="371.8" font-family="&quot;Liberation Sans&quot;, sans-serif" font-size="13.2" font-weight="bold" fill="#000" text-anchor="middle" transform="rotate(-90 17 371.8)" textLength="92.6" lengthAdjust="spacingAndGlyphs">Radiance (mW)</text>
<path d="M69.7,483.3 C71.48,483.3 76.83,483.3 80.4,483.3 C83.97,483.3 87.53,483.3 91.1,483.3 C94.67,483.3 98.23,483.3 101.8,483.3 C105.37,483.3 108.93,483.3 112.5,483.3 C116.07,483.3 119.63,483.3 123.2,483.3 C126.77,483.3 130.33,483.3 133.9,483.3 C137.47,483.3 141.03,483.3 144.6,483.3 C148.17,483.3 151.73,483.3 155.3,483.3 C158.87,483.3 162.43,484.17 166,483.3 C169.57,482.43 173.13,480.25 176.7,478.1 C180.27,475.95 183.83,473.8 187.4,470.4 C190.97,467 194.53,462.92 198.1,457.7 C201.67,452.48 205.23,446.07 208.8,439.1 C212.37,432.13 215.93,423.72 219.5,415.9 C223.07,408.08 226.63,399.85 230.2,392.2 C233.77,384.55 237.33,377.12 240.9,370 C244.47,362.88 248.03,356.15 251.6,349.5 C255.17,342.85 258.73,335.85 262.3,330.1 C265.87,324.35 267.82,320.68 273,315 C278.18,309.32 290,299.17 293.4,296" fill="none" stroke="#000" stroke-width="1.1"/>
<rect x="67.4" y="481" width="4.6" height="4.6" fill="#000"/>
<rect x="78.1" y="481" width="4.6" height="4.6" fill="#000"/>
<rect x="88.8" y="481" width="4.6" height="4.6" fill="#000"/>
<rect x="99.5" y="481" width="4.6" height="4.6" fill="#000"/>
<rect x="110.2" y="481" width="4.6" height="4.6" fill="#000"/>
<rect x="120.9" y="481" width="4.6" height="4.6" fill="#000"/>
<rect x="131.6" y="481" width="4.6" height="4.6" fill="#000"/>
<rect x="142.3" y="481" width="4.6" height="4.6" fill="#000"/>
<rect x="153" y="481" width="4.6" height="4.6" fill="#000"/>
<rect x="163.7" y="481" width="4.6" height="4.6" fill="#000"/>
<rect x="174.4" y="475.8" width="4.6" height="4.6" fill="#000"/>
<rect x="185.1" y="468.1" width="4.6" height="4.6" fill="#000"/>
<rect x="195.8" y="455.4" width="4.6" height="4.6" fill="#000"/>
<rect x="206.5" y="436.8" width="4.6" height="4.6" fill="#000"/>
<rect x="217.2" y="413.6" width="4.6" height="4.6" fill="#000"/>
<rect x="227.9" y="389.9" width="4.6" height="4.6" fill="#000"/>
<rect x="238.6" y="367.7" width="4.6" height="4.6" fill="#000"/>
<rect x="249.3" y="347.2" width="4.6" height="4.6" fill="#000"/>
<rect x="260" y="327.8" width="4.6" height="4.6" fill="#000"/>
<rect x="270.7" y="312.7" width="4.6" height="4.6" fill="#000"/>
<rect x="291.1" y="293.7" width="4.6" height="4.6" fill="#000"/>
<path d="M69.2,483.1 C71.68,483.1 79.11,483.1 84.07,483.1 C89.03,483.1 93.98,483.1 98.94,483.1 C103.9,483.1 108.85,483.1 113.81,483.1 C118.77,483.1 123.72,483.1 128.68,483.1 C133.64,483.1 138.59,483.1 143.55,483.1 C148.51,483.1 153.46,483.1 158.42,483.1 C163.38,483.1 168.33,483.1 173.29,483.1 C178.25,483.1 183.38,483.33 188.16,483.1 C192.94,482.87 197.13,482.63 202,481.7 C206.87,480.77 212.4,479.97 217.4,477.5 C222.4,475.03 227.2,471.6 232,466.9 C236.8,462.2 241.5,456.95 246.2,449.3 C250.9,441.65 255.33,431.45 260.2,421 C265.07,410.55 270.37,396.73 275.4,386.6 C280.43,376.47 285.28,367.48 290.4,360.2 C295.52,352.92 300.82,346.87 306.1,342.9 C311.38,338.93 319.43,337.48 322.1,336.4" fill="none" stroke="#f00" stroke-width="1.1"/>
<circle cx="69.2" cy="483.1" r="2.6" fill="#f00"/>
<circle cx="84.07" cy="483.1" r="2.6" fill="#f00"/>
<circle cx="98.94" cy="483.1" r="2.6" fill="#f00"/>
<circle cx="113.81" cy="483.1" r="2.6" fill="#f00"/>
<circle cx="128.68" cy="483.1" r="2.6" fill="#f00"/>
<circle cx="143.55" cy="483.1" r="2.6" fill="#f00"/>
<circle cx="158.42" cy="483.1" r="2.6" fill="#f00"/>
<circle cx="173.29" cy="483.1" r="2.6" fill="#f00"/>
<circle cx="188.16" cy="483.1" r="2.6" fill="#f00"/>
<circle cx="202" cy="481.7" r="2.6" fill="#f00"/>
<circle cx="217.4" cy="477.5" r="2.6" fill="#f00"/>
<circle cx="232" cy="466.9" r="2.6" fill="#f00"/>
<circle cx="246.2" cy="449.3" r="2.6" fill="#f00"/>
<circle cx="260.2" cy="421" r="2.6" fill="#f00"/>
<circle cx="275.4" cy="386.6" r="2.6" fill="#f00"/>
<circle cx="290.4" cy="360.2" r="2.6" fill="#f00"/>
<circle cx="306.1" cy="342.9" r="2.6" fill="#f00"/>
<circle cx="322.1" cy="336.4" r="2.6" fill="#f00"/>
<path d="M182.5,301.5 H185.5 V335.8 H132.8 V333 H182.5 Z" fill="#000"/>
<line x1="129.8" y1="299" x2="129.8" y2="333" stroke="#aaa" stroke-width="0.9"/>
<line x1="131.1" y1="308.1" x2="161.5" y2="308.1" stroke="#333" stroke-width="1.3"/>
<rect x="144.4" y="305.9" width="4.4" height="4.4" fill="#000"/>
<text x="164.4" y="312.3" font-family="&quot;Liberation Sans&quot;, sans-serif" font-size="11" font-weight="bold" fill="#000" text-anchor="start" textLength="16.3" lengthAdjust="spacingAndGlyphs">M1</text>
<line x1="131.1" y1="324.2" x2="161.5" y2="324.2" stroke="#f00" stroke-width="1.3"/>
<circle cx="146.3" cy="324.2" r="2.4" fill="#f00"/>
<text x="164.4" y="328.5" font-family="&quot;Liberation Sans&quot;, sans-serif" font-size="11" font-weight="bold" fill="#000" text-anchor="start" textLength="16.3" lengthAdjust="spacingAndGlyphs">M2</text>
<text x="361.5" y="256.5" font-family="&quot;Liberation Sans&quot;, sans-serif" font-size="13.5" font-weight="bold" fill="#000" text-anchor="start" textLength="18.6" lengthAdjust="spacingAndGlyphs">(d)</text>
<rect x="412.2" y="268.1" width="267.8" height="214.9" fill="none" stroke="#000" stroke-width="1.7"/>
<line x1="411.9" y1="483" x2="411.9" y2="486.8" stroke="#000" stroke-width="1.3"/>
<line x1="411.9" y1="268.1" x2="411.9" y2="271.9" stroke="#000" stroke-width="1.3"/>
<text x="411.9" y="500.4" font-family="&quot;Liberation Sans&quot;, sans-serif" font-size="11.8" font-weight="bold" fill="#000" text-anchor="middle" textLength="6.6" lengthAdjust="spacingAndGlyphs">0</text>
<line x1="441.6" y1="483" x2="441.6" y2="485.5" stroke="#000" stroke-width="1.3"/>
<line x1="441.6" y1="268.1" x2="441.6" y2="270.6" stroke="#000" stroke-width="1.3"/>
<line x1="471.3" y1="483" x2="471.3" y2="486.8" stroke="#000" stroke-width="1.3"/>
<line x1="471.3" y1="268.1" x2="471.3" y2="271.9" stroke="#000" stroke-width="1.3"/>
<text x="471.3" y="500.4" font-family="&quot;Liberation Sans&quot;, sans-serif" font-size="11.8" font-weight="bold" fill="#000" text-anchor="middle" textLength="20" lengthAdjust="spacingAndGlyphs">100</text>
<line x1="501" y1="483" x2="501" y2="485.5" stroke="#000" stroke-width="1.3"/>
<line x1="501" y1="268.1" x2="501" y2="270.6" stroke="#000" stroke-width="1.3"/>
<line x1="530.7" y1="483" x2="530.7" y2="486.8" stroke="#000" stroke-width="1.3"/>
<line x1="530.7" y1="268.1" x2="530.7" y2="271.9" stroke="#000" stroke-width="1.3"/>
<text x="530.7" y="500.4" font-family="&quot;Liberation Sans&quot;, sans-serif" font-size="11.8" font-weight="bold" fill="#000" text-anchor="middle" textLength="20" lengthAdjust="spacingAndGlyphs">200</text>
<line x1="560.4" y1="483" x2="560.4" y2="485.5" stroke="#000" stroke-width="1.3"/>
<line x1="560.4" y1="268.1" x2="560.4" y2="270.6" stroke="#000" stroke-width="1.3"/>
<line x1="590.1" y1="483" x2="590.1" y2="486.8" stroke="#000" stroke-width="1.3"/>
<line x1="590.1" y1="268.1" x2="590.1" y2="271.9" stroke="#000" stroke-width="1.3"/>
<text x="590.1" y="500.4" font-family="&quot;Liberation Sans&quot;, sans-serif" font-size="11.8" font-weight="bold" fill="#000" text-anchor="middle" textLength="20" lengthAdjust="spacingAndGlyphs">300</text>
<line x1="619.8" y1="483" x2="619.8" y2="485.5" stroke="#000" stroke-width="1.3"/>
<line x1="619.8" y1="268.1" x2="619.8" y2="270.6" stroke="#000" stroke-width="1.3"/>
<line x1="649.5" y1="483" x2="649.5" y2="486.8" stroke="#000" stroke-width="1.3"/>
<line x1="649.5" y1="268.1" x2="649.5" y2="271.9" stroke="#000" stroke-width="1.3"/>
<text x="649.5" y="500.4" font-family="&quot;Liberation Sans&quot;, sans-serif" font-size="11.8" font-weight="bold" fill="#000" text-anchor="middle" textLength="20" lengthAdjust="spacingAndGlyphs">400</text>
<line x1="679.2" y1="483" x2="679.2" y2="485.5" stroke="#000" stroke-width="1.3"/>
<line x1="679.2" y1="268.1" x2="679.2" y2="270.6" stroke="#000" stroke-width="1.3"/>
<line x1="408.5" y1="482.9" x2="412.2" y2="482.9" stroke="#000" stroke-width="1.3"/>
<line x1="676.3" y1="482.9" x2="680" y2="482.9" stroke="#000" stroke-width="1.3"/>
<text x="404.1" y="486.1" font-family="&quot;Liberation Sans&quot;, sans-serif" font-size="11.8" font-weight="bold" fill="#000" text-anchor="end" textLength="31.9" lengthAdjust="spacingAndGlyphs">0.000</text>
<line x1="410.6" y1="463.37" x2="412.2" y2="463.37" stroke="#000" stroke-width="1.3"/>
<line x1="678" y1="463.37" x2="680" y2="463.37" stroke="#000" stroke-width="1.3"/>
<line x1="408.5" y1="443.84" x2="412.2" y2="443.84" stroke="#000" stroke-width="1.3"/>
<line x1="676.3" y1="443.84" x2="680" y2="443.84" stroke="#000" stroke-width="1.3"/>
<text x="404.1" y="447.04" font-family="&quot;Liberation Sans&quot;, sans-serif" font-size="11.8" font-weight="bold" fill="#000" text-anchor="end" textLength="31.9" lengthAdjust="spacingAndGlyphs">0.002</text>
<line x1="410.6" y1="424.31" x2="412.2" y2="424.31" stroke="#000" stroke-width="1.3"/>
<line x1="678" y1="424.31" x2="680" y2="424.31" stroke="#000" stroke-width="1.3"/>
<line x1="408.5" y1="404.78" x2="412.2" y2="404.78" stroke="#000" stroke-width="1.3"/>
<line x1="676.3" y1="404.78" x2="680" y2="404.78" stroke="#000" stroke-width="1.3"/>
<text x="404.1" y="407.98" font-family="&quot;Liberation Sans&quot;, sans-serif" font-size="11.8" font-weight="bold" fill="#000" text-anchor="end" textLength="31.9" lengthAdjust="spacingAndGlyphs">0.004</text>
<line x1="410.6" y1="385.25" x2="412.2" y2="385.25" stroke="#000" stroke-width="1.3"/>
<line x1="678" y1="385.25" x2="680" y2="385.25" stroke="#000" stroke-width="1.3"/>
<line x1="408.5" y1="365.72" x2="412.2" y2="365.72" stroke="#000" stroke-width="1.3"/>
<line x1="676.3" y1="365.72" x2="680" y2="365.72" stroke="#000" stroke-width="1.3"/>
<text x="404.1" y="368.92" font-family="&quot;Liberation Sans&quot;, sans-serif" font-size="11.8" font-weight="bold" fill="#000" text-anchor="end" textLength="31.9" lengthAdjust="spacingAndGlyphs">0.006</text>
<line x1="410.6" y1="346.19" x2="412.2" y2="346.19" stroke="#000" stroke-width="1.3"/>
<line x1="678" y1="346.19" x2="680" y2="346.19" stroke="#000" stroke-width="1.3"/>
<line x1="408.5" y1="326.66" x2="412.2" y2="326.66" stroke="#000" stroke-width="1.3"/>
<line x1="676.3" y1="326.66" x2="680" y2="326.66" stroke="#000" stroke-width="1.3"/>
<text x="404.1" y="329.86" font-family="&quot;Liberation Sans&quot;, sans-serif" font-size="11.8" font-weight="bold" fill="#000" text-anchor="end" textLength="31.9" lengthAdjust="spacingAndGlyphs">0.008</text>
<line x1="410.6" y1="307.13" x2="412.2" y2="307.13" stroke="#000" stroke-width="1.3"/>
<line x1="678" y1="307.13" x2="680" y2="307.13" stroke="#000" stroke-width="1.3"/>
<line x1="408.5" y1="287.6" x2="412.2" y2="287.6" stroke="#000" stroke-width="1.3"/>
<line x1="676.3" y1="287.6" x2="680" y2="287.6" stroke="#000" stroke-width="1.3"/>
<text x="404.1" y="290.8" font-family="&quot;Liberation Sans&quot;, sans-serif" font-size="11.8" font-weight="bold" fill="#000" text-anchor="end" textLength="31.9" lengthAdjust="spacingAndGlyphs">0.010</text>
<text x="545.8" y="521.5" font-family="&quot;Liberation Sans&quot;, sans-serif" font-size="13.2" font-weight="bold" fill="#000" text-anchor="middle" textLength="63.6" lengthAdjust="spacingAndGlyphs">Time (min)</text>
<text x="363.8" y="369.3" font-family="&quot;Liberation Sans&quot;, sans-serif" font-size="13.2" font-weight="bold" fill="#000" text-anchor="middle" transform="rotate(-90 363.8 369.3)" textLength="90.5" lengthAdjust="spacingAndGlyphs">Radiance (mW)</text>
<path d="M412.07,482.47 L412.07,481.15 L412.07,479.82 L412.08,478.5 L412.09,477.18 L412.11,475.85 L412.12,474.53 L412.14,473.2 L412.16,471.88 L412.19,470.55 L412.22,469.22 L412.24,467.9 L412.27,466.57 L412.31,465.24 L412.34,463.91 L412.38,462.58 L412.42,461.25 L412.46,459.92 L412.51,458.59 L412.55,457.26 L412.6,455.93 L412.65,454.6 L412.7,453.27 L412.75,451.94 L412.81,450.61 L412.87,449.28 L412.92,447.94 L412.98,446.61 L413.05,445.28 L413.11,443.94 L413.17,442.61 L413.24,441.28 L413.31,439.94 L413.37,438.61 L413.44,437.28 L413.51,435.94 L413.59,434.61 L413.66,433.27 L413.73,431.94 L413.81,430.6 L413.88,429.27 L413.96,427.93 L414.04,426.6 L414.12,425.26 L414.2,423.93 L414.28,422.59 L414.36,421.26 L414.44,419.92 L414.52,418.59 L414.6,417.25 L414.68,415.92 L414.77,414.58 L414.85,413.25 L414.93,411.91 L415.02,410.58 L415.1,409.24 L415.18,407.91 L415.27,406.57 L415.35,405.24 L415.44,403.91 L415.52,402.57 L415.6,401.24 L415.69,399.9 L415.77,398.57 L415.86,397.24 L415.94,395.9 L416.02,394.57 L416.1,393.24 L416.19,391.9 L416.27,390.57 L416.35,389.24 L416.43,387.91 L416.51,386.57 L416.59,385.24 L416.66,383.91 L416.74,382.58 L416.82,381.25 L416.89,379.92 L416.97,378.59 L417.04,377.26 L417.11,375.93 L417.19,374.6 L417.26,373.28 L417.33,371.95 L417.39,370.62 L417.46,369.29 L417.53,367.97 L417.59,366.64 L417.65,365.32 L417.71,363.99 L417.77,362.67 L417.83,361.34 L417.89,360.02 L417.94,358.7 L417.99,357.37 L418.05,356.05 L418.09,354.73 L418.14,353.41 L418.19,352.09 L418.23,350.77 L418.27,349.45 L418.31,348.13 L418.36,346.81 L418.4,345.49 L418.44,344.18 L418.48,342.86 L418.52,341.54 L418.57,340.22 L418.62,338.9 L418.67,337.58 L418.72,336.26 L418.77,334.93 L418.83,333.61 L418.9,332.29 L418.96,330.96 L419.04,329.64 L419.12,328.31 L419.2,326.98 L419.29,325.65 L419.39,324.32 L419.49,322.98 L419.61,321.65 L419.73,320.31 L419.85,318.97 L419.99,317.63 L420.14,316.28 L420.29,314.93 L420.46,313.58 L420.64,312.23 L420.82,310.88 L421.02,309.52 L421.23,308.16 L421.46,306.79 L421.69,305.42 L421.94,304.05 L422.2,302.68 L422.48,301.3 L422.77,299.92 L423.07,298.53 L423.39,297.14 L423.73,295.75 L424.08,294.35 L424.44,292.95 L424.83,291.57 L425.24,290.23 L425.68,288.95 L426.16,287.77 L426.67,286.71 L427.22,285.79 L427.82,285.04 L428.47,284.49 L429.18,284.15 L429.94,284.06 L430.76,284.22 L431.63,284.6 L432.54,285.16 L433.47,285.88 L434.42,286.72 L435.37,287.64 L436.32,288.63 L437.26,289.65 L438.17,290.68 L439.07,291.72 L439.95,292.77 L440.81,293.83 L441.66,294.9 L442.49,295.98 L443.31,297.07 L444.11,298.16 L444.91,299.26 L445.69,300.37 L446.46,301.48 L447.23,302.6 L447.99,303.72 L448.74,304.84 L449.48,305.97 L450.22,307.09 L450.96,308.22 L451.7,309.35 L452.43,310.48 L453.17,311.61 L453.9,312.73 L454.64,313.86 L455.37,314.98 L456.12,316.09 L456.86,317.2 L457.62,318.31 L458.37,319.41 L459.14,320.51 L459.92,321.59 L460.7,322.67 L461.49,323.75 L462.29,324.81 L463.1,325.87 L463.92,326.92 L464.75,327.97 L465.58,329 L466.43,330.03 L467.28,331.06 L468.13,332.07 L469,333.08 L469.88,334.08 L470.76,335.07 L471.65,336.06 L472.55,337.04 L473.45,338.01 L474.36,338.98 L475.28,339.93 L476.21,340.88 L477.14,341.83 L478.09,342.76 L479.03,343.69 L479.99,344.61 L480.95,345.53 L481.92,346.44 L482.9,347.34 L483.88,348.23 L484.87,349.12 L485.87,350 L486.87,350.87 L487.88,351.73 L488.89,352.59 L489.92,353.44 L490.94,354.28 L491.98,355.12 L493.02,355.95 L494.06,356.77 L495.11,357.59 L496.17,358.4 L497.23,359.2 L498.3,359.99 L499.38,360.78 L500.46,361.56 L501.54,362.33 L502.63,363.1 L503.73,363.85 L504.83,364.61 L505.93,365.35 L507.04,366.09 L508.16,366.82 L509.28,367.54 L510.41,368.26 L511.54,368.97 L512.67,369.67 L513.81,370.37 L514.95,371.05 L516.1,371.74 L517.25,372.41 L518.41,373.08 L519.57,373.74 L520.74,374.39 L521.9,375.04 L523.08,375.68 L524.25,376.31 L525.43,376.94 L526.62,377.55 L527.81,378.17 L529,378.77 L530.19,379.37 L531.39,379.96 L532.59,380.54 L533.8,381.12 L535,381.69 L536.22,382.25 L537.43,382.81 L538.65,383.36 L539.87,383.9 L541.09,384.44 L542.31,384.96 L543.54,385.49 L544.77,386 L546.01,386.51 L547.24,387.01 L548.48,387.5 L549.72,387.99 L550.96,388.47 L552.2,388.95 L553.45,389.41 L554.7,389.87 L555.95,390.32 L557.2,390.77 L558.45,391.21 L559.71,391.64 L560.97,392.07 L562.22,392.49 L563.48,392.9 L564.74,393.3 L566.01,393.7 L567.27,394.09 L568.53,394.48 L569.8,394.86 L571.07,395.23 L572.33,395.59 L573.6,395.95 L574.87,396.3 L576.14,396.64 L577.41,396.98 L578.68,397.31 L579.95,397.64 L581.22,397.95" fill="none" stroke="#484848" stroke-width="1.5" stroke-linejoin="round"/>
<path d="M412.1,481.1 L412.26,479.96 L412.43,478.82 L412.59,477.69 L412.75,476.57 L412.91,475.45 L413.07,474.34 L413.24,473.23 L413.4,472.13 L413.56,471.03 L413.72,469.94 L413.88,468.85 L414.05,467.77 L414.21,466.69 L414.37,465.62 L414.53,464.55 L414.69,463.48 L414.85,462.42 L415.01,461.36 L415.17,460.3 L415.33,459.24 L415.49,458.18 L415.65,457.13 L415.81,456.08 L415.97,455.02 L416.13,453.97 L416.29,452.92 L416.45,451.87 L416.6,450.82 L416.76,449.77 L416.92,448.72 L417.07,447.67 L417.23,446.61 L417.38,445.56 L417.54,444.5 L417.69,443.44 L417.84,442.38 L417.99,441.32 L418.15,440.25 L418.3,439.18 L418.45,438.1 L418.6,437.03 L418.75,435.95 L418.89,434.86 L419.04,433.77 L419.19,432.68 L419.33,431.58 L419.48,430.47 L419.62,429.36 L419.77,428.24 L419.91,427.12 L420.05,425.99 L420.2,424.86 L420.34,423.72 L420.5,422.59 L420.65,421.45 L420.82,420.31 L420.99,419.18 L421.18,418.04 L421.37,416.92 L421.58,415.79 L421.81,414.68 L422.04,413.57 L422.3,412.47 L422.58,411.39 L422.87,410.31 L423.19,409.25 L423.53,408.2 L423.89,407.16 L424.28,406.14 L424.7,405.14 L425.14,404.16 L425.62,403.2 L426.13,402.26 L426.66,401.34 L427.24,400.45 L427.85,399.58 L428.49,398.73 L429.17,397.92 L429.89,397.15 L430.63,396.42 L431.4,395.74 L432.21,395.1 L433.04,394.52 L433.9,394.01 L434.78,393.55 L435.69,393.17 L436.62,392.86 L437.57,392.63 L438.54,392.47 L439.53,392.39 L440.52,392.37 L441.53,392.4 L442.53,392.49 L443.53,392.61 L444.54,392.77 L445.54,392.97 L446.54,393.2 L447.54,393.46 L448.53,393.75 L449.53,394.08 L450.53,394.42 L451.53,394.79 L452.52,395.19 L453.52,395.6 L454.51,396.03 L455.51,396.48 L456.51,396.95 L457.5,397.42 L458.5,397.91 L459.5,398.4 L460.49,398.9 L461.49,399.4 L462.49,399.91 L463.49,400.42 L464.49,400.92 L465.49,401.43 L466.49,401.92 L467.5,402.42 L468.5,402.91 L469.51,403.39 L470.51,403.87 L471.52,404.34 L472.53,404.81 L473.54,405.28 L474.55,405.74 L475.56,406.2 L476.57,406.65 L477.59,407.1 L478.6,407.54 L479.62,407.98 L480.64,408.42 L481.65,408.85 L482.67,409.28 L483.69,409.7 L484.71,410.12 L485.74,410.54 L486.76,410.95 L487.78,411.35 L488.81,411.76 L489.83,412.15 L490.86,412.55 L491.89,412.94 L492.92,413.33 L493.94,413.71 L494.97,414.09 L496.01,414.47 L497.04,414.84 L498.07,415.2 L499.1,415.57 L500.14,415.93 L501.17,416.29 L502.21,416.64 L503.25,416.99 L504.28,417.34 L505.32,417.68 L506.36,418.02 L507.4,418.35 L508.44,418.68 L509.49,419.01 L510.53,419.34 L511.57,419.66 L512.62,419.98 L513.66,420.29 L514.71,420.61 L515.75,420.91 L516.8,421.22 L517.85,421.52 L518.9,421.82 L519.95,422.12 L521,422.41 L522.05,422.7 L523.1,422.99 L524.15,423.27 L525.21,423.55 L526.26,423.83 L527.31,424.1 L528.37,424.38 L529.42,424.65 L530.48,424.91 L531.54,425.17 L532.6,425.44 L533.65,425.69 L534.71,425.95 L535.77,426.2 L536.83,426.45 L537.89,426.7 L538.95,426.94 L540.02,427.18 L541.08,427.42 L542.14,427.66 L543.2,427.89 L544.27,428.13 L545.33,428.36 L546.4,428.58 L547.46,428.81 L548.53,429.03 L549.6,429.25 L550.67,429.47 L551.73,429.68 L552.8,429.9 L553.87,430.11 L554.94,430.32 L556.01,430.52 L557.08,430.73 L558.15,430.93 L559.22,431.13 L560.29,431.33 L561.37,431.52 L562.44,431.72 L563.51,431.91 L564.58,432.1 L565.66,432.29 L566.73,432.48 L567.81,432.66 L568.88,432.85 L569.96,433.03 L571.03,433.21 L572.11,433.38 L573.19,433.56 L574.26,433.74 L575.34,433.91 L576.42,434.08 L577.5,434.25 L578.57,434.42 L579.65,434.59 L580.73,434.75 L581.81,434.91 L582.89,435.08 L583.97,435.24 L585.05,435.4 L586.13,435.56 L587.21,435.71 L588.29,435.87 L589.37,436.02 L590.46,436.18 L591.54,436.33 L592.62,436.48 L593.7,436.63 L594.78,436.78 L595.87,436.93 L596.95,437.07 L598.03,437.22 L599.12,437.36 L600.2,437.51 L601.28,437.65 L602.37,437.79 L603.45,437.93 L604.53,438.07 L605.62,438.21 L606.7,438.35 L607.79,438.49 L608.87,438.63 L609.96,438.76 L611.04,438.9 L612.13,439.04 L613.21,439.17 L614.3,439.3 L615.38,439.44 L616.47,439.57 L617.55,439.7 L618.64,439.84 L619.72,439.97 L620.81,440.1 L621.9,440.23 L622.98,440.36 L624.07,440.49 L625.15,440.62 L626.24,440.75 L627.32,440.88 L628.41,441.01 L629.5,441.14 L630.58,441.27 L631.67,441.4 L632.75,441.52 L633.84,441.65 L634.92,441.78 L636.01,441.91 L637.1,442.04 L638.18,442.17 L639.27,442.3 L640.35,442.43 L641.44,442.56 L642.52,442.68 L643.61,442.81 L644.69,442.94 L645.78,443.07 L646.86,443.2 L647.95,443.34 L649.03,443.47 L650.12,443.6 L651.2,443.73 L652.28,443.86 L653.37,444 L654.45,444.13 L655.54,444.26 L656.62,444.4 L657.7,444.53 L658.78,444.67 L659.87,444.8" fill="none" stroke="#e23a3a" stroke-width="1.5" stroke-linejoin="round"/>
<rect x="562" y="305.6" width="53" height="33.9" fill="#000"/>
<rect x="558.6" y="302.3" width="52.9" height="33.6" fill="#fff" stroke="#aaa" stroke-width="0.8"/>
<line x1="559.9" y1="311.4" x2="590.7" y2="311.4" stroke="#555" stroke-width="1.1"/>
<line x1="559.9" y1="327.8" x2="590.7" y2="327.8" stroke="#e04848" stroke-width="1.6"/>
<text x="593.6" y="315.7" font-family="&quot;Liberation Sans&quot;, sans-serif" font-size="10.8" font-weight="bold" fill="#000" text-anchor="start" textLength="16.1" lengthAdjust="spacingAndGlyphs">M1</text>
<text x="593.6" y="331.8" font-family="&quot;Liberation Sans&quot;, sans-serif" font-size="10.8" font-weight="bold" fill="#000" text-anchor="start" textLength="16.1" lengthAdjust="spacingAndGlyphs">M2</text>
</svg>
</body></html>
